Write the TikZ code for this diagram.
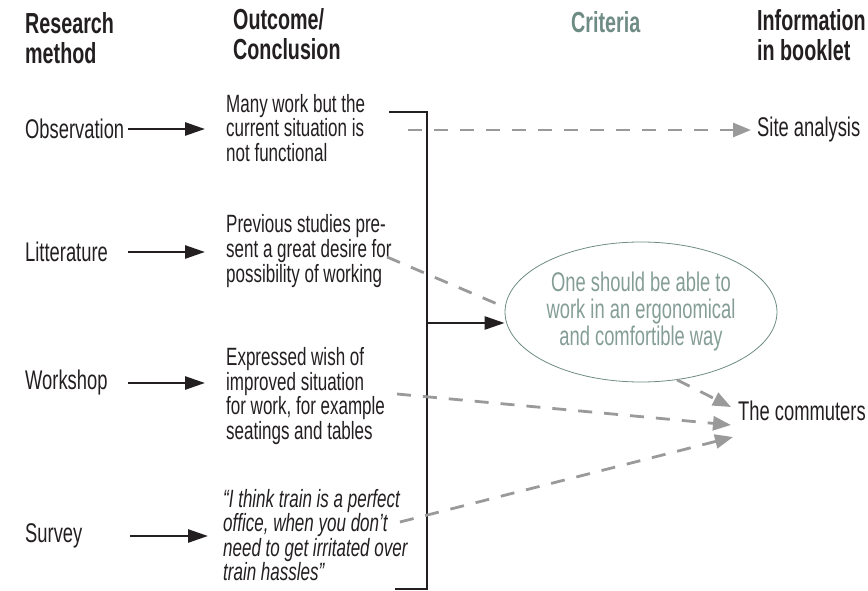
\documentclass[tikz,border=0pt]{standalone}
\usepackage{fontspec}
\setmainfont[FakeStretch=0.68]{Liberation Sans}
\usetikzlibrary{shapes.geometric,arrows.meta}
\definecolor{ink}{HTML}{231F20}
\definecolor{sage}{HTML}{6E8C84}
\definecolor{dashgrey}{HTML}{9A9A9A}

\begin{document}
\begin{tikzpicture}[x=1pt,y=-1pt,
  head/.style={inner sep=0,anchor=west,align=left,text=ink,font=\fontsize{29}{30}\selectfont\bfseries},
  method/.style={inner sep=0,anchor=west,text width=103pt,text=ink,font=\fontsize{27}{27}\selectfont},
  info/.style={inner sep=0,anchor=west,text=ink,font=\fontsize{27}{27}\selectfont},
  outcome/.style={inner sep=0,anchor=west,align=left,text=ink,font=\fontsize{25}{24.6}\selectfont},
  solid arrow/.style={line width=2.6pt,draw=ink,-{Triangle[length=20pt,width=13pt]}},
  grey line/.style={line width=2.8pt,draw=dashgrey,dash pattern=on 14pt off 12pt},
  grey arrow/.style={grey line,-{Triangle[length=18pt,width=14pt]}}]
\useasboundingbox (0,0) rectangle (868,591);

\node[head] (hmeth) at (25,38) {Research\\method};
\node[head] (hout) at (233,34) {Outcome/\\Conclusion};
\node[head,text=sage] (hcrit) at (571,22) {Criteria};
\node[head] (hinfo) at (757,35) {Information\\in booklet};

\node[method] (obs) at (25,129) {Observation};
\node[method] (lit) at (25,252) {Litterature};
\node[method] (work) at (25,383) {Workshop};
\node[method] (surv) at (25,536) {Survey};

\node[outcome] (out1) at (226,128) {Many work but the\\current situation is\\not functional};
\node[outcome] (out2) at (226,251) {Previous studies pre-\\sent a great desire for\\possibility of working};
\node[outcome] (out3) at (226,396) {Expressed wish of\\improved situation\\for work, for example\\seatings and tables};
\node[outcome,font=\fontsize{25}{24.6}\selectfont\itshape] (out4) at (223,535)
  {“I think train is a perfect\\office, when you don’t\\need to get irritated over\\train hassles”};

\node[ellipse,draw=sage,line width=0.8pt,minimum width=272pt,minimum height=140pt,inner sep=0,
  align=center,text=sage!85!white,font=\fontsize{27}{27}\selectfont] (crit) at (641,312)
  {One should be able to\\work in an ergonomical\\and comfortible way};

\node[info] (site) at (757,130) {Site analysis};
\node[info] (comm) at (738,411) {The commuters};

\draw[solid arrow,shorten >=21pt] (obs.east) -- (obs.east -| out1.west);
\draw[solid arrow,shorten >=21pt] (lit.east) -- (lit.east -| out2.west);
\draw[solid arrow,shorten >=21pt] (work.east) -- (work.east -| out3.west);
\draw[solid arrow,shorten >=15pt] ([xshift=2pt]surv.east) -- (surv.east -| out4.west);

\coordinate (btop) at (389,112);
\coordinate (bbot) at (395,589);
\coordinate (bmid) at (427,323);
\draw[line width=2.6pt,draw=ink] (btop) -- (btop -| bmid) -- (bbot -| bmid) -- (bbot);
\draw[solid arrow] (bmid) -- (bmid -| crit.west);

\coordinate (d1) at (408,130);
\coordinate (d2) at (387,257);
\coordinate (d4) at (397,394);
\coordinate (d5) at (400,522);
\draw[grey arrow,shorten >=6pt] (d1) -- (d1 -| site.west);
\draw[grey line] (d2) -- (crit.178);
\draw[grey arrow] (crit.-62) -- ([shift={(-7,-4)}]comm.west);
\draw[grey arrow] (d4) -- ([shift={(-7,14)}]comm.west);
\draw[grey arrow] (d5) -- ([shift={(-5,26)}]comm.west);
\end{tikzpicture}
\end{document}
